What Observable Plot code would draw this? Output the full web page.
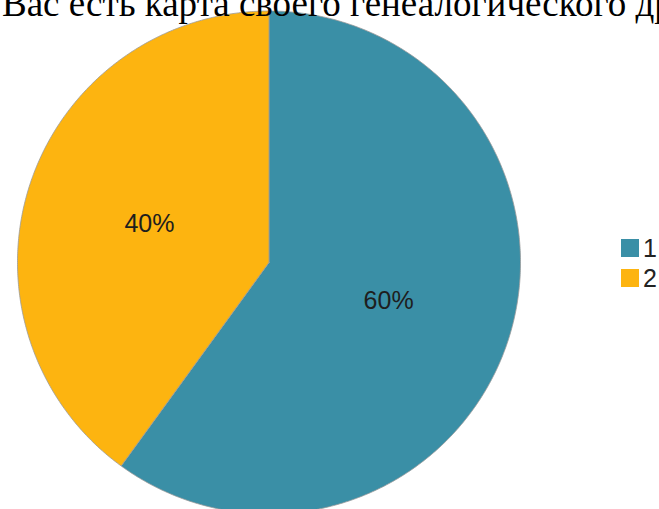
<!DOCTYPE html>
<html>
<head>
<meta charset="utf-8">
<script src="https://cdn.jsdelivr.net/npm/d3@7"></script>
<script src="https://cdn.jsdelivr.net/npm/@observablehq/plot@0.6"></script>
<style>
  html, body { margin: 0; padding: 0; background: #fff; overflow: hidden; }
  #wrap { position: relative; width: 659px; height: 509px; overflow: hidden; }
  #chart { position: absolute; left: 0; top: 0; }
  #legend { position: absolute; left: 621px; top: 233px; }
  .lg-swatches { font-family: "Liberation Sans", Arial, sans-serif !important; font-size: 25px !important; color: #222 !important; margin: 0 !important; min-height: 0 !important; }
  .lg-swatch { height: 30px !important; padding: 0 !important; margin: 0 !important; }
  .lg-swatch svg { margin-right: 4px !important; }
</style>
</head>
<body>
<div id="wrap">
  <div id="chart"></div>
  <div id="legend"></div>
</div>
<script>
// Data
const title = "У Вас есть карта своего генеалогического древа?";
const categories = ["1", "2"];
const values = [60, 40];
const labels = ["60%", "40%"];
const colors = ["#3a8fa6", "#fdb410"];

// Pie geometry (angles clockwise from 12 o'clock)
const pie = d3.pie().sort(null).value((d, i) => values[i])(categories);
const poly = [];
pie.forEach((s, i) => {
  const cat = categories[i];
  const n = Math.max(2, Math.ceil((s.endAngle - s.startAngle) / (Math.PI / 360)));
  poly.push({cat, x: 0, y: 0});
  for (let k = 0; k <= n; k++) {
    const a = s.startAngle + (s.endAngle - s.startAngle) * k / n;
    poly.push({cat, x: Math.sin(a), y: Math.cos(a)});
  }
  poly.push({cat, x: 0, y: 0});
});
const labelPts = pie.map((s, i) => {
  const a = (s.startAngle + s.endAngle) / 2;
  return {label: labels[i], x: 0.5 * Math.sin(a), y: 0.5 * Math.cos(a)};
});

const cx = 268.5, cy = 262, r = 251.5;

const chart = Plot.plot({
  width: 659,
  height: 509,
  margin: 0,
  style: {background: "transparent", overflow: "visible"},
  x: {domain: [-1, 1], range: [cx - r, cx + r], axis: null},
  y: {domain: [-1, 1], range: [cy + r, cy - r], axis: null},
  color: {domain: categories, range: colors},
  marks: [
    Plot.line(poly, {x: "x", y: "y", z: "cat", fill: "cat", stroke: "#9a9a9a", strokeWidth: 0.8, curve: "linear-closed"}),
    Plot.text(labelPts, {x: "x", y: "y", text: "label", fontSize: 25, fill: "#1e1e1e", fontFamily: "Liberation Sans, Arial, sans-serif", textAnchor: "middle", lineAnchor: "middle"}),
    Plot.text([title], {frameAnchor: "top-left", text: d => d, dx: -34, dy: 15, lineAnchor: "bottom", textAnchor: "start", fontSize: 37, fontFamily: "Liberation Serif, Times New Roman, serif", fill: "#000"})
  ]
});
document.getElementById("chart").appendChild(chart);

const leg = Plot.legend({
  color: {type: "ordinal", domain: categories, range: colors},
  legend: "swatches",
  columns: 1,
  swatchSize: 18,
  className: "lg"
});
document.getElementById("legend").appendChild(leg);
</script>
</body>
</html>
